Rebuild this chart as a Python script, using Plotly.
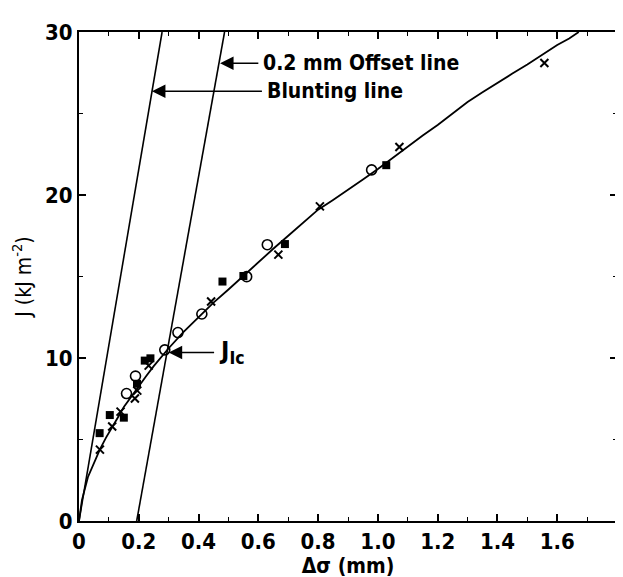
import plotly.graph_objects as go

# Fitted J-R curve
curve_x = [0.0, 0.01, 0.03, 0.05, 0.07, 0.09, 0.11, 0.13, 0.15, 0.175, 0.2, 0.225, 0.25, 0.275, 0.3, 0.35, 0.4, 0.45, 0.5, 0.55, 0.6, 0.65, 0.7, 0.75, 0.8, 0.85, 0.9, 0.95, 1.0, 1.05, 1.1, 1.15, 1.2, 1.25, 1.3, 1.35, 1.4, 1.45, 1.5, 1.55, 1.6, 1.64, 1.672]
curve_y = [0.0, 1.3, 2.7, 3.6, 4.4, 5.1, 5.7, 6.35, 7.0, 7.65, 8.3, 8.9, 9.5, 10.05, 10.6, 11.6, 12.5, 13.4, 14.2, 15.05, 15.9, 16.7, 17.5, 18.3, 19.1, 19.7, 20.3, 20.95, 21.6, 22.3, 23.0, 23.65, 24.3, 25.0, 25.7, 26.3, 26.9, 27.45, 28.0, 28.6, 29.2, 29.6, 30.0]

# Blunting line and 0.2 mm offset line
blunt_x = [0.0, 0.278]
blunt_y = [0.0, 30.0]
offset_x = [0.193, 0.487]
offset_y = [0.0, 30.0]

# Data points
circle_x = [0.159, 0.189, 0.287, 0.331, 0.411, 0.561, 0.630, 0.979]
circle_y = [7.82, 8.89, 10.5, 11.56, 12.7, 14.99, 16.95, 21.54]

square_x = [0.069, 0.103, 0.150, 0.194, 0.220, 0.239, 0.480, 0.550, 0.689, 1.028]
square_y = [5.39, 6.50, 6.34, 8.42, 9.84, 9.98, 14.69, 15.03, 16.99, 21.83]

cross_x = [0.070, 0.111, 0.139, 0.187, 0.195, 0.233, 0.442, 0.667, 0.806, 1.072, 1.557]
cross_y = [4.38, 5.80, 6.71, 7.52, 8.00, 9.53, 13.47, 16.34, 19.30, 22.95, 28.10]

x_tickvals = [0, 0.2, 0.4, 0.6, 0.8, 1.0, 1.2, 1.4, 1.6, 1.8]
x_ticktext = ["0", "0.2", "0.4", "0.6", "0.8", "1.0", "1.2", "1.4", "1.6", "1.8"]
y_tickvals = [0, 10, 20, 30]
y_ticktext = ["0", "10", "20", "30"]

# Labels with arrows: text, arrow tip (x, y), text left edge x
label_texts = ["0.2 mm Offset line", "Blunting line", "J<sub>Ic</sub>"]
label_tip_x = [0.472, 0.244, 0.300]
label_tip_y = [28.08, 26.36, 10.34]
label_left_x = [0.600, 0.612, 0.452]

FONT = "DejaVu Sans Condensed, DejaVu Sans"

fig = go.Figure()
fig.add_trace(go.Scatter(x=blunt_x, y=blunt_y, mode="lines",
                         line=dict(color="black", width=1.6), showlegend=False))
fig.add_trace(go.Scatter(x=offset_x, y=offset_y, mode="lines",
                         line=dict(color="black", width=1.6), showlegend=False))
fig.add_trace(go.Scatter(x=curve_x, y=curve_y, mode="lines",
                         line=dict(color="black", width=1.8), showlegend=False))
fig.add_trace(go.Scatter(x=square_x, y=square_y, mode="markers",
                         marker=dict(symbol="square", size=8, color="black"), showlegend=False))
fig.add_trace(go.Scatter(x=cross_x, y=cross_y, mode="markers",
                         marker=dict(symbol="x-thin", size=8, color="black",
                                     line=dict(color="black", width=2)), showlegend=False))
fig.add_trace(go.Scatter(x=circle_x, y=circle_y, mode="markers",
                         marker=dict(symbol="circle-open", size=10, color="black",
                                     line=dict(color="black", width=1.6)), showlegend=False))

for i, txt in enumerate(label_texts):
    big = i == 2
    fig.add_annotation(x=label_tip_x[i], y=label_tip_y[i], ax=label_left_x[i], ay=label_tip_y[i],
                       xref="x", yref="y", axref="x", ayref="y",
                       text=txt, showarrow=True, arrowhead=2, arrowsize=1.8, arrowwidth=1.5,
                       arrowcolor="black", xanchor="left", yanchor="middle", borderpad=4,
                       font=dict(family=FONT, size=25 if big else 21, color="black", weight="bold"))

axis_common = dict(showline=True, linecolor="black", linewidth=2, mirror="allticks",
                   ticks="inside", tickcolor="black", ticklen=7, tickwidth=1.5,
                   showgrid=False, zeroline=False,
                   tickfont=dict(family=FONT, size=22, color="black", weight="bold"))

fig.update_xaxes(range=[0, 1.8], tickvals=x_tickvals, ticktext=x_ticktext,
                 minor=dict(ticks="inside", dtick=0.1, ticklen=4, tickcolor="black", tickwidth=1.2),
                 title=dict(text="Δσ (mm)", font=dict(family=FONT, size=21, color="black", weight="bold"), standoff=4),
                 **axis_common)
fig.update_yaxes(range=[0, 30], tickvals=y_tickvals, ticktext=y_ticktext,
                 minor=dict(ticks="inside", dtick=5, ticklen=4, tickcolor="black", tickwidth=1.2),
                 title=dict(text="J (kJ m<sup>-2</sup>)", font=dict(family=FONT, size=21, color="black"), standoff=8),
                 **axis_common)

fig.update_layout(width=623, height=577, plot_bgcolor="white", paper_bgcolor="white",
                  margin=dict(l=71, r=13, t=20, b=64), showlegend=False)

fig.write_html("out.html")
